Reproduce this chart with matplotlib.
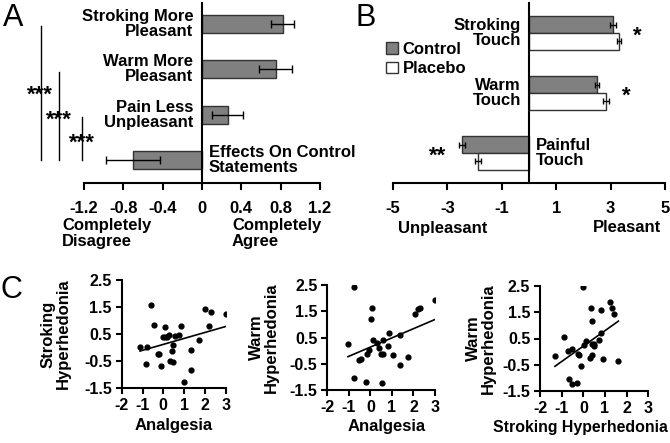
import numpy as np
import matplotlib
matplotlib.use("Agg")
import matplotlib.pyplot as plt

plt.rcParams['font.family'] = ['Liberation Sans Narrow', 'Liberation Sans', 'DejaVu Sans']
plt.rcParams['font.weight'] = 'bold'
plt.rcParams['axes.labelweight'] = 'bold'
plt.rcParams['axes.unicode_minus'] = False

# ---------------- data ----------------
a_labels = ["Stroking More\nPleasant", "Warm More\nPleasant", "Pain Less\nUnpleasant", "Effects On Control\nStatements"]
a_vals = [0.82, 0.75, 0.26, -0.70]
a_err = [0.12, 0.17, 0.155, 0.275]
a_ticks = [-1.2, -0.8, -0.4, 0, 0.4, 0.8, 1.2]
a_tick_labels = ["-1.2", "-0.8", "-0.4", "0", "0.4", "0.8", "1.2"]

b_labels = ["Stroking\nTouch", "Warm\nTouch", "Painful\nTouch"]
b_control = [3.09, 2.50, -2.46]
b_placebo = [3.31, 2.83, -1.87]
b_control_err = [0.10, 0.08, 0.12]
b_placebo_err = [0.08, 0.10, 0.10]
b_stars = ["*", "*", "**"]
b_ticks = [-5, -3, -1, 1, 3, 5]

c1_x = [-1.12, -0.77, -0.59, -0.45, -0.83, -0.24, -0.19, -0.12, -0.03, 0.08, 0.07, 0.20, 0.29, 0.32,
        0.40, 0.48, 0.48, 0.56, 0.77, 0.84, 1.00, 1.33, 1.33, 1.72, 2.00, 2.20, 2.29, 3.00]
c1_y = [0.02, 0.03, 1.56, 0.85, -0.62, -0.25, -0.23, -0.67, 0.40, 0.40, 0.75, 0.38, 0.45, -0.50,
        -0.13, -0.52, 0.11, 0.41, 0.48, 0.81, -1.29, -0.08, -0.85, 0.26, 1.42, 0.81, 1.30, 1.24]

c2_x = [-1.04, -0.75, -0.78, -0.51, -0.42, -0.22, -0.17, -0.07, 0.01, 0.09, 0.14, 0.29, 0.41, 0.48,
        0.57, 0.60, 0.55, 0.83, 0.88, 1.07, 1.37, 1.39, 1.76, 2.07, 2.23, 2.30, 3.00]
c2_y = [0.27, 2.44, -1.04, -0.37, -0.33, -1.21, -0.14, 0.04, 1.21, 1.64, 0.40, 0.28, 0.10, -0.14,
        0.42, -0.12, -1.22, 0.19, 0.69, -0.18, -0.55, 0.58, -0.24, 1.41, 1.59, 1.64, 1.91]

c3_x = [-1.31, -0.89, -0.71, -0.66, -0.52, -0.52, -0.31, -0.26, -0.18, -0.12, 0.00, 0.03, 0.12, 0.31,
        0.37, 0.38, 0.38, 0.40, 0.48, 0.51, 0.74, 0.80, 0.80, 0.89, 1.25, 1.34, 1.43, 1.62]
c3_y = [-0.18, 0.56, 0.01, -1.03, 0.11, -1.25, -1.20, -0.10, -0.14, -0.55, 2.47, 0.25, 0.40, -0.24,
        1.65, 1.17, -0.12, 0.30, 0.21, 0.29, 0.43, 1.57, 0.72, -0.29, 1.90, 1.65, 1.42, -0.37]

c_xticks = [-2, -1, 0, 1, 2, 3]
c_yticks = [2.5, 1.5, 0.5, -0.5, -1.5]

W, H = 670, 443
fig = plt.figure(figsize=(W / 100, H / 100), dpi=100)


def rect(x0, y0, x1, y1):
    return [x0 / W, 1 - y1 / H, (x1 - x0) / W, (y1 - y0) / H]


def fpos(x, y):
    return (x / W, 1 - y / H)


def bold_ticks(ax):
    for t in ax.get_xticklabels() + ax.get_yticklabels():
        t.set_fontweight('bold')


GRAY = '#808080'
FS = 12

# ---------------- Panel A ----------------
axA = fig.add_axes(rect(84, 3, 320, 183))
ya = np.arange(len(a_vals))[::-1]
axA.barh(ya, a_vals, height=0.4, color=GRAY, edgecolor='#333333', linewidth=1)
axA.errorbar(a_vals, ya, xerr=a_err, fmt='none', ecolor='black', elinewidth=1, capsize=3, capthick=1)
axA.set_xlim(-1.2, 1.2)
axA.set_ylim(-0.5, 3.46)
axA.spines['top'].set_visible(False)
axA.spines['right'].set_visible(False)
axA.spines['left'].set_position(('data', 0))
axA.spines['left'].set_linewidth(1.5)
axA.spines['bottom'].set_linewidth(1.5)
axA.set_yticks([])
axA.set_xticks(a_ticks)
axA.set_xticklabels(a_tick_labels)
axA.tick_params(axis='x', direction='out', length=5, width=1.5, labelsize=FS, pad=8)
bold_ticks(axA)
for i, (lab, v) in enumerate(zip(a_labels, a_vals)):
    if v >= 0:
        axA.text(-0.09, ya[i], lab, ha='right', va='center', fontsize=FS, linespacing=1.0)
    else:
        axA.text(0.07, ya[i], lab, ha='left', va='center', fontsize=FS, linespacing=1.0)

# significance brackets (A)
for top_idx, xline in zip([0, 1, 2], [-1.64, -1.455, -1.22]):
    axA.plot([xline, xline], [ya[top_idx] - 0.05, ya[3]], color='black', lw=1, clip_on=False)
fig.text(*fpos(40, 95), "***", ha='center', va='center', fontsize=16)
fig.text(*fpos(59, 120), "***", ha='center', va='center', fontsize=16)
fig.text(*fpos(82, 143), "***", ha='center', va='center', fontsize=16)

fig.text(*fpos(62, 218), "Completely\nDisagree", ha='left', va='top', fontsize=FS, linespacing=1.05)
fig.text(*fpos(232, 218), "Completely\nAgree", ha='left', va='top', fontsize=FS, linespacing=1.05)

# ---------------- Panel B ----------------
axB = fig.add_axes(rect(393, 3, 665, 183))
yb = np.arange(len(b_control))[::-1]
bc = axB.barh(yb + 0.14, b_control, height=0.28, color=GRAY, edgecolor='#333333', linewidth=1, label='Control')
bp = axB.barh(yb - 0.14, b_placebo, height=0.28, color='white', edgecolor='#333333', linewidth=1, label='Placebo')
axB.errorbar(b_control, yb + 0.14, xerr=b_control_err, fmt='none', ecolor='black', elinewidth=1, capsize=2)
axB.errorbar(b_placebo, yb - 0.14, xerr=b_placebo_err, fmt='none', ecolor='black', elinewidth=1, capsize=2)
axB.set_xlim(-5, 5)
axB.set_ylim(-0.5, 2.5)
axB.spines['top'].set_visible(False)
axB.spines['right'].set_visible(False)
axB.spines['left'].set_position(('data', 0))
axB.spines['left'].set_linewidth(1.5)
axB.spines['bottom'].set_linewidth(1.5)
axB.set_yticks([])
axB.set_xticks(b_ticks)
axB.set_xticklabels([str(t) for t in b_ticks])
axB.tick_params(axis='x', direction='out', length=5, width=1.5, labelsize=FS, pad=8)
bold_ticks(axB)
for i, lab in enumerate(b_labels):
    if b_control[i] >= 0:
        axB.text(-0.3, yb[i], lab, ha='right', va='center', fontsize=FS, linespacing=1.0)
    else:
        axB.text(0.25, yb[i], lab, ha='left', va='center', fontsize=FS, linespacing=1.0)
star_x = [3.97, 3.57, -3.35]
for i, s in enumerate(b_stars):
    axB.text(star_x[i], yb[i] - 0.05, s, ha='center', va='center', fontsize=16)
axB.legend(handles=[bc, bp], labels=['Control', 'Placebo'], loc='upper left',
           bbox_to_anchor=fpos(386, 42), bbox_transform=fig.transFigure, frameon=False,
           fontsize=FS, handlelength=0.7, handleheight=0.7, handletextpad=0.3,
           labelspacing=0.25, borderpad=0, borderaxespad=0)
fig.text(*fpos(398, 228), "Unpleasant", ha='left', va='center', fontsize=FS)
fig.text(*fpos(593, 228), "Pleasant", ha='left', va='center', fontsize=FS)

# ---------------- Panel C ----------------
scat = [
    (c1_x, c1_y, rect(121.7, 280, 225.7, 388), "Stroking\nHyperhedonia", "Analgesia", 0.5, -0.49, FS),
    (c2_x, c2_y, rect(327.3, 285, 435, 390), "Warm\nHyperhedonia", "Analgesia", 0.55, -0.45, FS),
    (c3_x, c3_y, rect(540, 286, 648.3, 391), "Warm\nHyperhedonia", "Stroking Hyperhedonia", 0.37, -0.41, 11.4),
]
for xs, ys, r, ylab, xlab, xlab_pos, ylab_pos, xfs in scat:
    ax = fig.add_axes(r)
    ax.scatter(xs, ys, s=12, color='black', zorder=3)
    k, b = np.polyfit(xs, ys, 1)
    xl = np.array([min(xs), max(xs)])
    ax.plot(xl, k * xl + b, color='black', lw=1.2)
    ax.set_xlim(-2, 3)
    ax.set_ylim(-1.5, 2.5)
    ax.set_xticks(c_xticks)
    ax.set_xticklabels([str(t) for t in c_xticks])
    ax.set_yticks(c_yticks)
    ax.set_yticklabels([f"{t:g}" for t in c_yticks])
    ax.spines['top'].set_visible(False)
    ax.spines['right'].set_visible(False)
    ax.spines['left'].set_linewidth(1.5)
    ax.spines['bottom'].set_linewidth(1.5)
    ax.tick_params(direction='out', length=4, width=1.5, labelsize=11.5, pad=3)
    bold_ticks(ax)
    ax.set_ylabel(ylab, fontsize=FS, linespacing=1.0)
    ax.set_xlabel(xlab, fontsize=xfs)
    ax.xaxis.set_label_coords(xlab_pos, -0.28)
    ax.yaxis.set_label_coords(ylab_pos, 0.5)

fig.text(*fpos(13, 18), "A", ha='center', va='center', fontsize=22, fontweight='normal')
fig.text(*fpos(366, 18), "B", ha='center', va='center', fontsize=22, fontweight='normal')
fig.text(*fpos(11, 290), "C", ha='center', va='center', fontsize=22, fontweight='normal')

fig.savefig("out.png", dpi=100)
